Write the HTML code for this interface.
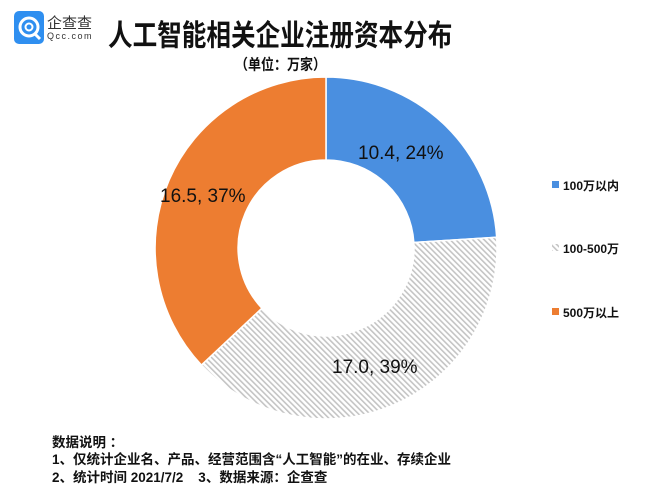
<!DOCTYPE html>
<html><head><meta charset="utf-8"><style>
body{margin:0;background:#fff;}
.w{position:relative;width:650px;height:493px;overflow:hidden;font-family:"Liberation Sans","Noto Sans CJK SC",sans-serif;}
.t{position:absolute;color:#111;white-space:nowrap;}
</style></head><body><div class="w">
<svg width="650" height="493" style="position:absolute;left:0;top:0">
<defs><pattern id="h" width="4" height="4" patternUnits="userSpaceOnUse" patternTransform="rotate(-45)"><rect width="4" height="4" fill="#fff"/><rect width="1.6" height="4" fill="#c4c4c4"/></pattern></defs>
<rect x="14" y="11" width="30" height="33" rx="5" fill="#2f8ff0"/>
<circle cx="29" cy="27" r="9" fill="none" stroke="#fff" stroke-width="3"/>
<circle cx="29" cy="27" r="3.5" fill="none" stroke="#fff" stroke-width="2"/>
<line x1="34" y1="33" x2="40" y2="39" stroke="#fff" stroke-width="3"/>
<path d="M326 77 A171 171 0 0 1 496.66 237.26 L413.83 242.47 A88 88 0 0 0 326 160 Z" fill="#4a8fe0" stroke="#fff" stroke-width="1.5"/>
<path d="M496.66 237.26 A171 171 0 0 1 201.4 365.05 L261.9 308.2 A88 88 0 0 0 413.83 242.47 Z" fill="url(#h)" stroke="#fff" stroke-width="1.5"/>
<path d="M201.4 365.05 A171 171 0 0 1 326 77 L326 160 A88 88 0 0 0 261.9 308.2 Z" fill="#ed7d31" stroke="#fff" stroke-width="1.5"/>
<rect x="552" y="181" width="7" height="7" fill="#4a8fe0"/>
<rect x="552" y="244" width="7" height="7" fill="url(#h)"/>
<rect x="552" y="308" width="7" height="7" fill="#ed7d31"/>
</svg>
<div class="t" style="left:47px;top:12px;font-size:15px;color:#333">企查查</div>
<div class="t" style="left:47px;top:31px;font-size:9px;letter-spacing:1.5px;color:#333">Qcc.com</div>
<div class="t" style="left:108px;top:12px;font-size:24.6px;font-weight:bold;transform:scaleY(1.2);transform-origin:0 0">人工智能相关企业注册资本分布</div>
<div class="t" style="left:235px;top:52px;font-size:13px;font-weight:bold;transform:scaleY(1.15);transform-origin:0 0">（单位：万家）</div>
<div class="t" style="left:358px;top:143px;font-size:19px">10.4, 24%</div>
<div class="t" style="left:160px;top:186px;font-size:19px">16.5, 37%</div>
<div class="t" style="left:332px;top:357px;font-size:19px">17.0, 39%</div>
<div class="t" style="left:563px;top:177px;font-size:12px;font-weight:bold">100万以内</div>
<div class="t" style="left:563px;top:240px;font-size:12px;font-weight:bold">100-500万</div>
<div class="t" style="left:563px;top:304px;font-size:12px;font-weight:bold">500万以上</div>
<div class="t" style="left:52px;top:431px;font-size:13.5px;font-weight:bold">数据说明 ：</div>
<div class="t" style="left:52px;top:448px;font-size:13.5px;font-weight:bold">1、仅统计企业名、产品、经营范围含“人工智能”的在业、存续企业</div>
<div class="t" style="left:52px;top:466px;font-size:13.5px;font-weight:bold">2、统计时间 2021/7/2&nbsp;&nbsp;&nbsp; 3、数据来源：企查查</div>
</div></body></html>
